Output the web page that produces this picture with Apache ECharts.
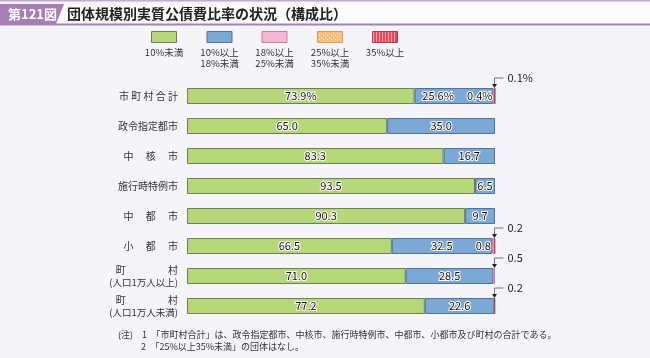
<!DOCTYPE html>
<html><head><meta charset="utf-8">
<script src="https://cdn.jsdelivr.net/npm/echarts@6/dist/echarts.min.js"></script>
<style>html,body{margin:0;padding:0;background:#f5f5f9;}#c{width:650px;height:358px;}</style>
</head><body><div id="c"></div>
<script>
var categories = ['市町村合計','政令指定都市','中核市','施行時特例市','中都市','小都市','町村（人口1万人以上）','町村（人口1万人未満）'];
var axisLabels = ['市 町 村 合 計','政令指定都市','中　 核　 市','施行時特例市','中　 都　 市','小　 都　 市','{a|町　　　　 村}\n{b|(人口1万人以上)}','{a|町　　　　 村}\n{b|(人口1万人未満)}'];
var under10   = [73.9, 65.0, 83.3, 93.5, 90.3, 66.5, 71.0, 77.2];
var from10to18 = [25.6, 35.0, 16.7, 6.5, 9.7, 32.5, 28.5, 22.6];
var from18to25 = [0.4, 0, 0, 0, 0, 0.8, 0.5, 0];
var from25to35 = [0, 0, 0, 0, 0, 0, 0, 0];
var over35     = [0.1, 0, 0, 0, 0, 0.2, 0, 0.2];
var legendNames = ['10%未満','10%以上\n18%未満','18%以上\n25%未満','25%以上\n35%未満','35%以上'];
var inlinePink = [0, 5];
var callouts = [[0,'over35'],[5,'over35'],[6,'from18to25'],[7,'over35']];

var F = '"Noto Sans CJK JP","Noto Sans",sans-serif';
var colors = ['#b5d779','#7ca8d6','#f6b7d3','#fbc07f','#ec5868'];
var borders = ['#6f7f58','#4f739c','#d27a9c','#d89a55','#c0394a'];

function mkPattern(kind){
  var c = document.createElement('canvas');
  var ctx;
  if(kind==='dots'){ c.width=4;c.height=4;ctx=c.getContext('2d');ctx.fillStyle='#fbbd7b';ctx.fillRect(0,0,4,4);ctx.fillStyle='#fde6c8';ctx.fillRect(1,1,1,1);ctx.fillRect(3,3,1,1);}
  else { c.width=3;c.height=2;ctx=c.getContext('2d');ctx.fillStyle='#e84a5c';ctx.fillRect(0,0,3,2);ctx.fillStyle='#f7a4ae';ctx.fillRect(1,0,1,2);}
  return {type:'pattern', image:c, repeat:'repeat'};
}
var legendFills = [colors[0],colors[1],colors[2],mkPattern('dots'),mkPattern('stripes')];

var seriesVals = {under10:under10, from10to18:from10to18, from18to25:from18to25, from25to35:from25to35, over35:over35};
var keys = ['under10','from10to18','from18to25','from25to35','over35'];

function fmt(v, i){ return v.toFixed(1) + (i===0 ? '%' : ''); }

var labelStyle = {color:'#111', fontSize:11, fontFamily:F, textBorderColor:'#fff', textBorderWidth:2};

var series = keys.map(function(k, si){
  return {
    type:'bar', stack:'total', name:legendNames[si], barWidth:16,
    itemStyle:{color:colors[si], borderColor:borders[si], borderWidth:si===3?0:1},
    label: (si<2) ? Object.assign({show:true, position:'inside', formatter:function(p){return fmt(p.value,p.dataIndex);}}, labelStyle) : {show:false},
    data: seriesVals[k].map(function(v, i){
      if(!(v>0)) return '-';
      var item = {value:v};
      if(si===1 && i===0) item.label = {offset:[-16,0]};
      if(si===2 && inlinePink.indexOf(i)>=0){
        item.label = Object.assign({show:true, position:'left', distance:1, formatter:function(p){return fmt(p.value,p.dataIndex);}}, labelStyle);
      }
      return item;
    })
  };
});

series.push({
  type:'custom', silent:true, z:10,
  data: callouts.map(function(c){ return [100, c[0], fmt(seriesVals[c[1]][c[0]], c[0])]; }),
  encode:{x:0, y:1},
  renderItem:function(params, api){
    var p = api.coord([api.value(0), api.value(1)]);
    var x = Math.round(p[0]) - 0.5, top = Math.round(p[1]) - 8;
    var ly = top - 10;
    return {type:'group', children:[
      {type:'polyline', shape:{points:[[x, top-3],[x, ly],[x+9, ly]]}, style:{stroke:'#777', lineWidth:1, fill:null}},
      {type:'polygon', shape:{points:[[x-2.5, top-4],[x+2.5, top-4],[x, top]]}, style:{fill:'#222'}},
      {type:'text', style:{x:x+13, y:ly, text:api.value(2), fill:'#222', font:'11px '+F, verticalAlign:'middle', align:'left'}}
    ]};
  }
});

var graphic = [
  {type:'rect', shape:{x:0,y:0,width:650,height:1.5}, style:{fill:'#c7a6d4'}},
  {type:'rect', shape:{x:0,y:4,width:650,height:20}, style:{fill:'#fbfbfd'}},
  {type:'polygon', shape:{points:[[0,4],[64,4],[56,24],[0,24]]}, style:{fill:'#a67fb9'}},
  {type:'rect', shape:{x:0,y:23.5,width:650,height:2}, style:{fill:'#a67fb9'}},
  {type:'text', style:{x:8, y:14, text:'第121図', fill:'#fff', font:'bold 13px '+F, verticalAlign:'middle'}},
  {type:'text', style:{x:67, y:14, text:'団体規模別実質公債費比率の状況（構成比）', fill:'#222', font:'bold 14px '+F, verticalAlign:'middle'}},
  {type:'text', style:{x:118, y:335, text:'(注)　1　「市町村合計」は、政令指定都市、中核市、施行時特例市、中都市、小都市及び町村の合計である。', fill:'#333', font:'9px '+F, verticalAlign:'middle'}},
  {type:'text', style:{x:141, y:347, text:'2　「25%以上35%未満」の団体はなし。', fill:'#333', font:'9px '+F, verticalAlign:'middle'}}
];
var lx = [164, 219.5, 274.5, 330, 385];
legendNames.forEach(function(n, i){
  graphic.push({type:'rect', shape:{x:lx[i]-12.5, y:31.5, width:25, height:11}, style:{fill:legendFills[i], stroke:borders[i], lineWidth:1}});
  graphic.push({type:'text', style:{x:lx[i], y:47, text:n, fill:'#333', font:'9.5px '+F, align:'center', verticalAlign:'top', lineHeight:11}});
});

var chart = echarts.init(document.getElementById('c'), null, {renderer:'canvas'});
chart.setOption({
  backgroundColor:'#f5f5f9',
  animation:false,
  grid:{left:187, right:155, top:81, bottom:37},
  xAxis:{type:'value', min:0, max:100, show:false},
  yAxis:{type:'category', data:categories, inverse:true,
    axisLine:{show:false}, axisTick:{show:false}, splitLine:{show:false},
    axisLabel:{margin:9, color:'#333', fontSize:10, fontFamily:F, lineHeight:12,
      rich:{a:{fontSize:10, fontFamily:F, color:'#333', lineHeight:12}, b:{fontSize:9.5, fontFamily:F, color:'#333', lineHeight:12}},
      formatter:function(v, i){ return axisLabels[i]; }}},
  series:series,
  graphic:graphic
});
</script></body></html>
